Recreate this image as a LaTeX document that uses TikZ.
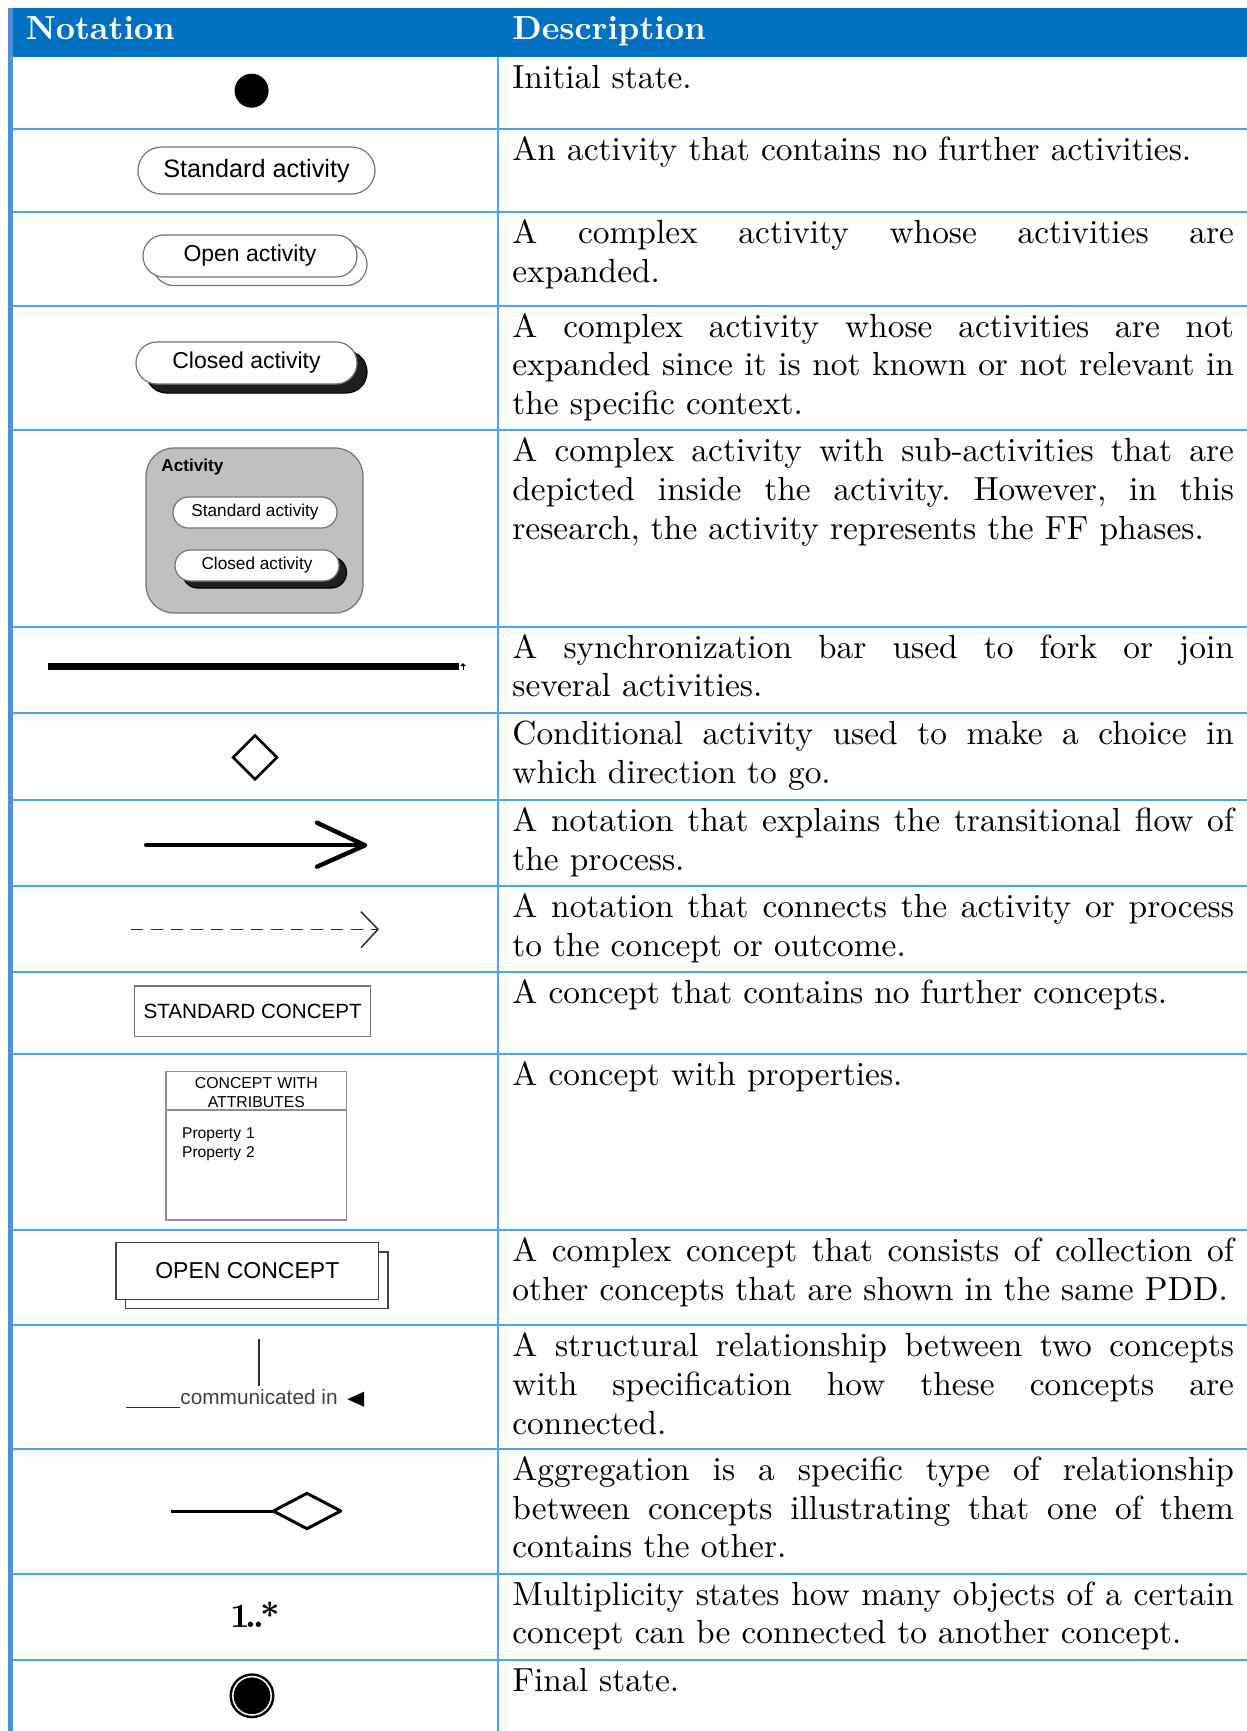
\documentclass[tikz,border=0pt]{standalone}
\usepackage{fontspec}
\setmainfont{lmroman10-regular.otf}[BoldFont=lmroman10-bold.otf]
\newfontfamily\arialf{Liberation Sans}
\usetikzlibrary{shapes.geometric}
\definecolor{headblue}{RGB}{0,112,192}
\definecolor{gridblue}{RGB}{66,165,245}
\definecolor{edgeblue}{RGB}{84,142,214}
\definecolor{linegray}{RGB}{115,115,115}
\definecolor{boxgray}{RGB}{192,192,192}
\definecolor{inkgray}{RGB}{45,45,45}
\hyphenpenalty=10000
\exhyphenpenalty=10000
\tolerance=10000
\begin{document}
\begin{tikzpicture}[x=0.5pt,y=-0.5pt,
  gridline/.style={draw=gridblue,line width=1pt},
  headtext/.style={anchor=base west,inner sep=0pt,text=white,
    font=\fontsize{16.7}{19}\selectfont\bfseries},
  desc/.style={anchor=base west,inner sep=0pt,text width=360.8pt,align=justify,
    font=\fontsize{16.7}{19.3}\selectfont\frenchspacing},
  pillbox/.style={rectangle,draw=linegray,line width=0.6pt,fill=white,inner sep=0pt},
  shadowpill/.style={rectangle,draw=black,line width=0.6pt,fill=black!88,inner sep=0pt},
  sans/.style={font=\arialf\fontsize{#1}{#1}\selectfont},
  conceptbox/.style={rectangle,draw=linegray,line width=0.6pt,fill=white,inner sep=0pt},
]
\useasboundingbox (0,0) rectangle (1247,1731);
\fill[white] (0,0) rectangle (1247,1731);

% header band and left edge
\fill[headblue] (8,7.7) rectangle (1247,57.4);
\node[headtext] (hnot) at (25.4,39.5) {Notation};
\node[headtext] (hdesc) at (512,39.5) {Description};

% table rules
\foreach \yy in {129.1,211.9,305.7,430.4,626.8,712.9,800.0,886.1,972.2,1053.8,1230.4,1325.3,1448.9,1573.6,1659.7}
  \draw[gridline] (12,\yy) -- (1247,\yy);
\draw[gridline] (498,57.4) -- (498,1731);
\fill[edgeblue] (8.3,7.7) rectangle (12.7,1731);

% descriptions
\node[desc] (d1) at (512,88.9) {Initial state.};
\node[desc] (d2) at (512,160.6) {An activity that contains no further activities.};
\node[desc] (d3) at (512,243.4) {A complex activity whose activities are\linebreak expanded.};
\node[desc] (d4) at (512,337.2) {A complex activity whose activities are not\linebreak expanded since it is not known or not relevant in\linebreak the specific context.};
\node[desc] (d5) at (512,461.9) {A complex activity with sub-activities that are\linebreak depicted inside the activity. However, in this\linebreak research, the activity represents the FF phases.};
\node[desc] (d6) at (512,658.3) {A synchronization bar used to fork or join\linebreak several activities.};
\node[desc] (d7) at (512,744.4) {Conditional activity used to make a choice in\linebreak which direction to go.};
\node[desc] (d8) at (512,831.5) {A notation that explains the transitional flow of\linebreak the process.};
\node[desc] (d9) at (512,917.6) {A notation that connects the activity or process\linebreak to the concept or outcome.};
\node[desc] (d10) at (512,1003.7) {A concept that contains no further concepts.};
\node[desc] (d11) at (512,1085.3) {A concept with properties.};
\node[desc] (d12) at (512,1261.9) {A complex concept that consists of collection of\linebreak other concepts that are shown in the same PDD.};
\node[desc] (d13) at (512,1356.8) {A structural relationship between two concepts\linebreak with specification how these concepts are\linebreak connected.};
\node[desc] (d14) at (512,1480.4) {Aggregation is a specific type of relationship\linebreak between concepts illustrating that one of them\linebreak contains the other.};
\node[desc] (d15) at (512,1605.1) {Multiplicity states how many objects of a certain\linebreak concept can be connected to another concept.};
\node[desc] (d16) at (512,1691.2) {Final state.};

% initial state
\fill (251.6,90.7) circle[radius=8.5pt];

% standard activity
\node[pillbox,minimum width=118.5pt,minimum height=23.5pt,rounded corners=11.7pt,sans=12.6]
  (stdact) at (256.5,170.5) {Standard activity};

% open activity
\node[pillbox,minimum width=107pt,minimum height=21pt,rounded corners=10.4pt]
  (openback) at (260,264.5) {};
\node[pillbox,minimum width=107pt,minimum height=21pt,rounded corners=10.4pt,sans=11.5]
  (openact) at (250,256) {Open activity};

% closed activity
\node[shadowpill,minimum width=110.5pt,minimum height=21pt,rounded corners=10.4pt]
  (closedsh) at (256.5,372) {};
\node[pillbox,minimum width=110.5pt,minimum height=21pt,rounded corners=10.4pt,sans=11.5]
  (closedact) at (246.5,363) {Closed activity};

% composite activity
\node[rectangle,draw=linegray,line width=0.6pt,fill=boxgray,rounded corners=14pt,
  minimum width=108.5pt,minimum height=82.5pt,inner sep=0pt] (actbox) at (254.5,530.5) {};
\node[anchor=base west,inner sep=0pt,font=\arialf\bfseries\fontsize{8.6}{8.6}\selectfont]
  (actlabel) at (161,471.5) {Activity};
\node[pillbox,minimum width=82pt,minimum height=15.5pt,rounded corners=7.7pt,sans=8.6]
  (inner1) at (255,512.5) {Standard activity};
\node[shadowpill,minimum width=82pt,minimum height=15.5pt,rounded corners=7.7pt]
  (inner2sh) at (264.5,572.5) {};
\node[pillbox,minimum width=82pt,minimum height=15.5pt,rounded corners=7.7pt,sans=8.6]
  (inner2) at (257,565.5) {Closed activity};

% synchronization bar
\coordinate (barL) at (48,666.7);
\coordinate (barR) at (458.5,666.7);
\draw[line width=3.25pt] (barL) -- (barR);
\fill (460,666.2) -- (463,663.2) -- (466,666.2) -- cycle;
\draw[line width=0.4pt] (463,664.5) -- (463,669.5);

% decision
\node[diamond,draw,line width=1.3pt,minimum width=22.4pt,minimum height=22.4pt,inner sep=0pt,
  shape aspect=1] (decide) at (255,757.3) {};

% transition
\coordinate (flowA) at (146,845.3);
\coordinate (flowB) at (365,845.3);
\coordinate (flowU) at (317,822.7);
\coordinate (flowD) at (317,866.7);
\draw[line width=2pt,line cap=round] (flowA) -- (flowB);
\draw[line width=2.2pt,line cap=round,line join=round] (flowU) -- (flowB) -- (flowD);

% dashed relation
\coordinate (dashA) at (131,929.3);
\coordinate (dashB) at (378,929.3);
\coordinate (dashU) at (361,911.7);
\coordinate (dashD) at (361,947.7);
\draw[inkgray,line width=0.75pt,dash pattern=on 6.2pt off 3.8pt] (dashA) -- (dashB);
\draw[inkgray,line width=0.75pt] (dashU) -- (dashB) -- (dashD);

% standard concept
\node[conceptbox,minimum width=118pt,minimum height=25.35pt,sans=10.3]
  (stdcon) at (252.7,1011.35) {STANDARD CONCEPT};

% concept with attributes
\node[conceptbox,draw=linegray!80,minimum width=90.35pt,minimum height=74.15pt]
  (attrcon) at (256.35,1145.85) {};
\draw[linegray!80,line width=0.6pt] (166,1110) -- (346.7,1110);
\node[anchor=base,inner sep=0pt,text width=88pt,align=center,
  font=\arialf\fontsize{7.9}{9.5}\selectfont] (attrtitle) at (256.35,1088.4)
  {CONCEPT WITH\\ATTRIBUTES};
\node[anchor=base west,inner sep=0pt,text width=80pt,align=left,
  font=\arialf\fontsize{7.8}{9.5}\selectfont] (attrprops) at (181.7,1138.3)
  {Property 1\\Property 2};

% open concept
\node[conceptbox,draw=black!75,minimum width=131.35pt,minimum height=28.3pt]
  (openconback) at (256.7,1280.3) {};
\node[conceptbox,draw=black!75,minimum width=131.35pt,minimum height=28.3pt,sans=11.5]
  (opencon) at (247.35,1271) {OPEN CONCEPT};

% named relationship
\coordinate (relTop) at (259,1339.3);
\coordinate (relBot) at (259,1386);
\coordinate (relL) at (126,1407.3);
\coordinate (relR) at (180,1407.3);
\draw[inkgray,line width=0.7pt] (relTop) -- (relBot);
\draw[inkgray,line width=0.7pt] (relL) -- (relR);
\node[anchor=base west,inner sep=0pt,text=black!75,
  font=\arialf\fontsize{10.4}{10.4}\selectfont] (rellabel) at (180,1404.5) {communicated in};
\fill (347.3,1399.2) -- (364,1391.7) -- (364,1406.7) -- cycle;

% aggregation
\coordinate (aggA) at (171,1511);
\coordinate (aggL) at (273.3,1511);
\coordinate (aggT) at (307,1493.3);
\coordinate (aggR) at (340.7,1511);
\coordinate (aggB) at (307,1528.7);
\draw[line width=1.5pt] (aggA) -- (aggL);
\draw[line width=1.5pt,line join=round] (aggL) -- (aggT) -- (aggR) -- (aggB) -- cycle;

% multiplicity
\node[anchor=base,inner sep=0pt,font=\fontsize{17}{17}\selectfont\bfseries] (mult)
  at (255,1627.3) {1\kern-1.8pt.\kern-1.8pt.\kern-1.8pt*};

% final state
\fill (252,1695.8) circle[radius=11.25pt];
\draw[white,line width=0.75pt] (252,1695.8) circle[radius=9.6pt];
\end{tikzpicture}
\end{document}
